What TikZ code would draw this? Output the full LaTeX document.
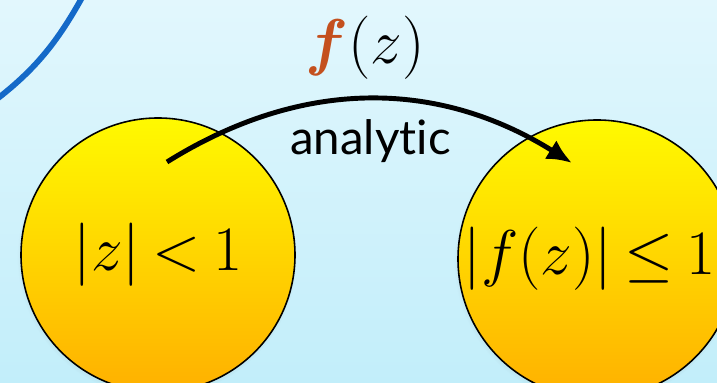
\RequirePackage{fix-cm}
\documentclass[tikz,border=0pt]{standalone}
\usepackage{amsmath,amssymb}
\usepackage{fontspec}
\newfontfamily\labelfont[Ligatures={NoCommon,NoRare,NoDiscretionary}]{Lato}
\usepackage{xcolor}
\usepackage{tikz}
\usetikzlibrary{arrows.meta,positioning,shadows}

\definecolor{bgtop}{RGB}{226,247,253}
\definecolor{bgbot}{RGB}{194,238,250}
\definecolor{discA}{RGB}{255,250,0}
\definecolor{discB}{RGB}{255,176,0}
\definecolor{fcol}{RGB}{196,80,30}
\definecolor{rimblue}{RGB}{20,105,200}
\thickmuskip=3.5mu\relax

\begin{document}
\begin{tikzpicture}[
    disc/.style={circle, draw, line width=0.9pt, top color=discA, bottom color=discB, inner sep=0pt,
      font=\fontsize{36}{40}\selectfont,
      circular drop shadow={shadow xshift=-0.02cm, shadow yshift=-0.04cm, shadow scale=1.02, opacity=0.35}},
    edge/.style={-{Latex[length=5mm,width=4.4mm]}, line width=2.8pt},
    lab/.style={font=\fontsize{36}{40}\selectfont},
    word/.style={font=\labelfont\fontsize{27}{30}\selectfont, anchor=base}
  ]
    \useasboundingbox (0,0) rectangle (14.34,7.66);
    \clip (0,0) rectangle (14.34,7.66);
    \fill[top color=bgtop, bottom color=bgbot] (0,0) rectangle (14.34,7.66);

    % unit circle rim, top left
    \draw[rimblue, line width=3.3pt, line cap=round] (-0.3,5.5) to[out=36,in=-118] (1.8,8.0);

    \node[disc, minimum size=5.48cm] (domain) at (3.16,2.56) {$|z|<1$};
    \node[disc, minimum size=5.56cm] (image) at (11.94,2.48) {$|f(z)|\leq 1$\kern0.3cm};

    \node[lab] (map) at (7.3,6.70) {$\color{fcol}\boldsymbol{f}\color{black}(z)$};
    \node[word] (kind) at (7.41,4.56) {analytic};

    \coordinate (src) at (3.34,4.42);
    \coordinate (dst) at (11.44,4.40);
    \draw[edge] (src) to[out=32,in=148] (dst);
  \end{tikzpicture}
\end{document}
